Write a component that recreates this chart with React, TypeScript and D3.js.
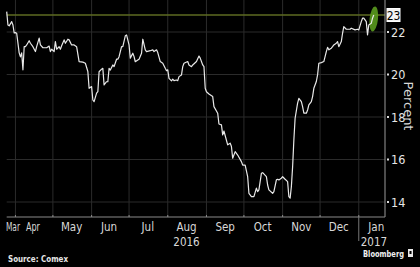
import React from "react";
import * as d3 from "d3";

const dates: string[] = [
  "2016-03-25","2016-03-26","2016-03-27","2016-03-29","2016-03-30","2016-03-31","2016-04-01","2016-04-02","2016-04-04","2016-04-05",
  "2016-04-06","2016-04-07","2016-04-08","2016-04-09","2016-04-10","2016-04-12","2016-04-13","2016-04-15","2016-04-17","2016-04-18",
  "2016-04-20","2016-04-21","2016-04-23","2016-04-26","2016-04-28","2016-04-29","2016-04-30","2016-05-02","2016-05-03","2016-05-04",
  "2016-05-06","2016-05-07","2016-05-08","2016-05-10","2016-05-11","2016-05-13","2016-05-14","2016-05-16","2016-05-18","2016-05-20",
  "2016-05-22","2016-05-25","2016-05-27","2016-05-29","2016-05-30","2016-06-01","2016-06-02","2016-06-03","2016-06-05","2016-06-06",
  "2016-06-07","2016-06-09","2016-06-10","2016-06-11","2016-06-13","2016-06-14","2016-06-15","2016-06-16","2016-06-18","2016-06-19",
  "2016-06-21","2016-06-22","2016-06-23","2016-06-25","2016-06-26","2016-06-28","2016-06-29","2016-07-01","2016-07-02","2016-07-04",
  "2016-07-05","2016-07-06","2016-07-08","2016-07-09","2016-07-11","2016-07-12","2016-07-14","2016-07-15","2016-07-18","2016-07-20",
  "2016-07-21","2016-07-23","2016-07-24","2016-07-26","2016-07-28","2016-07-30","2016-07-31","2016-08-01","2016-08-02","2016-08-04",
  "2016-08-05","2016-08-06","2016-08-08","2016-08-09","2016-08-10","2016-08-12","2016-08-13","2016-08-14","2016-08-17","2016-08-18",
  "2016-08-20","2016-08-21","2016-08-24","2016-08-26","2016-08-27","2016-08-29","2016-08-30","2016-08-31","2016-09-01","2016-09-03",
  "2016-09-06","2016-09-07","2016-09-10","2016-09-11","2016-09-13","2016-09-14","2016-09-15","2016-09-18","2016-09-20","2016-09-21",
  "2016-09-22","2016-09-24","2016-09-26","2016-09-29","2016-09-30","2016-10-02","2016-10-04","2016-10-05","2016-10-07","2016-10-09",
  "2016-10-11","2016-10-12","2016-10-13","2016-10-15","2016-10-16","2016-10-19","2016-10-20","2016-10-21","2016-10-24","2016-10-25",
  "2016-10-27","2016-10-28","2016-10-29","2016-10-31","2016-11-01","2016-11-03","2016-11-05","2016-11-06","2016-11-07","2016-11-08",
  "2016-11-09","2016-11-10","2016-11-11","2016-11-13","2016-11-14","2016-11-16","2016-11-17","2016-11-18","2016-11-20","2016-11-21",
  "2016-11-22","2016-11-24","2016-11-25","2016-11-26","2016-11-28","2016-11-29","2016-11-30","2016-12-02","2016-12-04","2016-12-06",
  "2016-12-07","2016-12-08","2016-12-10","2016-12-11","2016-12-12","2016-12-14","2016-12-15","2016-12-16","2016-12-18","2016-12-19",
  "2016-12-20","2016-12-22","2016-12-25","2016-12-26","2016-12-29","2016-12-31","2017-01-01","2017-01-03","2017-01-04","2017-01-05",
  "2017-01-07","2017-01-08","2017-01-09","2017-01-11","2017-01-12","2017-01-13"
];

const values: number[] = [
  22.96,22.33,22.29,22.49,22.33,21.96,21.97,21.94,21.02,20.83,
  21.02,20.22,21.31,21.31,21.39,21.59,21.47,21.31,21.08,21.31,
  21.71,21.39,21.26,21.26,21.34,21.08,21.19,21.08,21.55,21.19,
  21.31,21.19,21.35,21.63,21.47,21.66,21.63,21.39,21.39,21.31,
  20.61,20.58,20.53,20.14,19.35,19.43,18.80,18.72,19.12,19.19,
  20.13,20.25,20.29,19.51,19.66,19.66,20.29,20.21,20.45,20.37,
  20.72,20.72,20.84,21.31,21.31,21.82,21.86,21.39,20.77,21.00,
  20.84,20.60,20.68,20.72,21.00,21.66,21.16,21.08,21.12,21.16,
  21.08,21.16,21.03,20.61,20.53,20.29,20.18,20.22,19.82,19.70,
  19.78,19.71,19.74,19.71,19.90,19.98,20.37,20.53,20.61,20.45,
  20.37,20.45,20.61,20.87,20.77,20.45,20.37,19.35,19.19,19.08,
  18.96,18.49,18.18,17.67,17.63,17.16,17.34,16.69,16.77,16.61,
  16.06,16.37,16.21,15.90,15.74,15.74,15.19,14.41,14.25,14.25,
  14.65,14.49,14.57,15.35,15.38,15.19,14.80,14.57,14.41,14.49,
  15.04,15.07,15.04,15.12,15.19,15.07,14.96,14.25,14.18,14.72,
  15.66,16.92,17.94,18.65,18.88,18.72,18.49,18.18,18.18,18.33,
  18.57,18.72,18.96,19.35,19.67,19.98,20.53,20.56,20.61,21.08,
  21.28,21.16,21.24,21.31,21.39,21.47,21.55,21.31,21.55,21.94,
  22.25,22.13,22.13,22.18,22.10,22.13,22.10,22.49,22.65,22.65,
  22.49,21.86,22.33,22.41,22.65,22.80
];

const yTicks: number[] = [14, 16, 18, 20, 22];
const monthStarts: string[] = ["2016-04-01","2016-05-01","2016-06-01","2016-07-01","2016-08-01","2016-09-01","2016-10-01","2016-11-01","2016-12-01","2017-01-01"];
const monthLabels: string[] = ["Mar","Apr","May","Jun","Jul","Aug","Sep","Oct","Nov","Dec","Jan"];
const monthMids: string[] = ["2016-03-30","2016-04-15","2016-05-16","2016-06-15","2016-07-16","2016-08-16","2016-09-16","2016-10-16","2016-11-16","2016-12-16","2017-01-15"];
const lastValueLabel = "23";

const parse = d3.timeParse("%Y-%m-%d");

export default function App() {
  const W = 420, H = 267;
  const left = 6.7, right = 385, top = 0, bottom = 217;
  const x = d3.scaleTime()
    .domain([parse("2016-03-25")!, parse("2017-01-22")!])
    .range([left, right]);
  const y = d3.scaleLinear().domain([14, 22]).range([202, 32]);
  const data = dates.map((d, i) => ({ date: parse(d)!, v: values[i] }));
  const line = d3.line<{ date: Date; v: number }>().x(d => x(d.date)).y(d => y(d.v));
  const last = data[data.length - 1];
  const lastY = y(last.v);
  const lastX = x(last.date);
  const font = "'DejaVu Sans Condensed', 'DejaVu Sans', sans-serif";
  const grid = "#2b2b2b";
  const txt = "#d8d8d8";

  return (
    <div style={{ position: "fixed", left: 0, top: 0, width: W, height: H, background: "#000" }}>
      <svg width={W} height={H} style={{ display: "block", background: "#000" }}>
        <rect x={0} y={0} width={W} height={H} fill="#000" />
        {yTicks.map(t => (
          <line key={"hg" + t} x1={left} x2={right} y1={y(t)} y2={y(t)} stroke={grid} strokeWidth={1} />
        ))}
        {monthStarts.map(m => (
          <line key={"vg" + m} x1={x(parse(m)!)} x2={x(parse(m)!)} y1={top} y2={bottom} stroke={grid} strokeWidth={1} />
        ))}
        <line x1={left} x2={right} y1={lastY} y2={lastY} stroke="#5e6b22" strokeWidth={1.3} />
        <ellipse cx={lastX} cy={lastY + 4} rx={4.2} ry={12.5} fill="#5a9a1e" opacity={0.9}
          transform={`rotate(6 ${lastX} ${lastY + 4})`} />
        <path d={line(data) || ""} fill="none" stroke="#e8e8e8" strokeWidth={1.2} strokeLinejoin="round" />
        <line x1={right} x2={right} y1={top} y2={bottom} stroke="#9a9a9a" strokeWidth={1} />
        <line x1={left} x2={right} y1={bottom} y2={bottom} stroke="#8a8a8a" strokeWidth={1} />
        {monthStarts.map(m => (
          <line key={"bt" + m} x1={x(parse(m)!)} x2={x(parse(m)!)} y1={bottom - 2} y2={bottom} stroke="#8a8a8a" strokeWidth={1} />
        ))}
        {yTicks.map(t => (
          <g key={"yt" + t}>
            <rect x={right + 2} y={y(t) - 1} width={2} height={2} fill="#ddd" />
            <text x={right + 6} y={y(t) + 4.5} fill="#e6e6e6" fontFamily={font} fontSize={12.5}>{t}</text>
          </g>
        ))}
        <rect x={right + 2} y={lastY - 6.5} width={13} height={13} fill="#f2f2f2" stroke="#fff" />
        <text x={right + 8.5} y={lastY + 4.5} fill="#000" fontFamily={font} fontSize={12} textAnchor="middle">{lastValueLabel}</text>
        <text transform={`translate(404, 106) rotate(90)`} fill={txt} fontFamily="'DejaVu Sans', sans-serif" fontSize={13} textAnchor="middle">Percent</text>
        {monthLabels.map((m, i) => (
          <text key={"ml" + m} x={x(parse(monthMids[i])!)} y={231} fill={txt}
            fontFamily={font} fontSize={11.5} textAnchor="middle"
            textLength={i < 2 ? 14 : undefined} lengthAdjust="spacingAndGlyphs">{m}</text>
        ))}
        <text x={x(parse("2016-08-16")!)} y={246} fill={txt} fontFamily={font} fontSize={11.5} textAnchor="middle">2016</text>
        <line x1={x(parse("2017-01-01")!)} x2={x(parse("2017-01-01")!)} y1={bottom} y2={241} stroke="#777" strokeWidth={1} />
        <text x={x(parse("2017-01-01")!) + 2} y={246} fill={txt} fontFamily={font} fontSize={11.5}>2017</text>
        <text x={8} y={262} fill="#e6e6e6" fontFamily={font} fontWeight="bold" fontSize={9.5} textLength={60} lengthAdjust="spacingAndGlyphs">Source: Comex</text>
        <text x={363} y={257} fill="#f0f0f0" fontFamily={font} fontWeight="bold" fontSize={9.5} textLength={41} lengthAdjust="spacingAndGlyphs">Bloomberg</text>
        <rect x={408} y={249} width={5} height={8} fill="#e8e8e8" />
        <rect x={409.5} y={251} width={2} height={3} fill="#000" />
      </svg>
    </div>
  );
}
